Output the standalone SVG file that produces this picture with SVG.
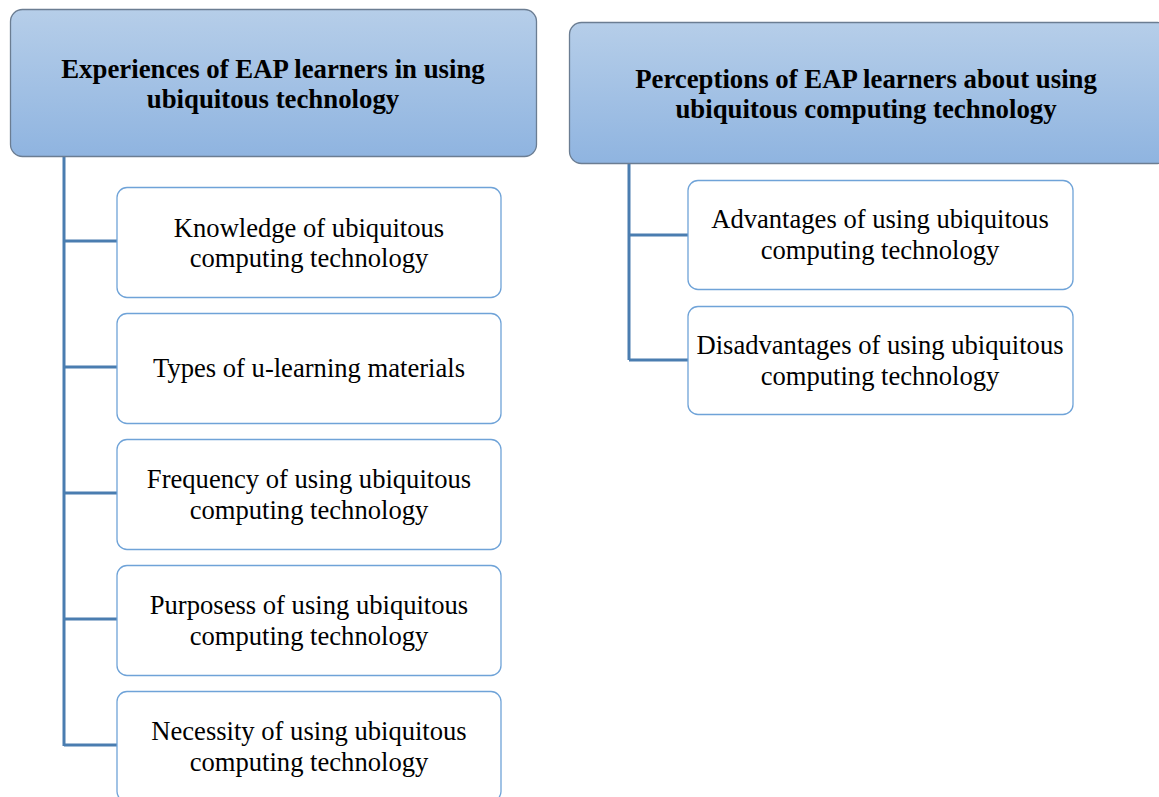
<svg xmlns="http://www.w3.org/2000/svg" width="1159" height="797" viewBox="0 0 1159 797">
  <style>
    .head { stroke: #6b7d92; stroke-width: 1.3; fill: url(#headFill); }
    .item { fill: #ffffff; stroke: #6fa3d8; stroke-width: 1.3; }
    .ht { font-family: "Liberation Serif", "Times New Roman", serif; font-weight: bold; font-size: 26.8px; fill: #000; text-anchor: middle; }
    .it { font-family: "Liberation Serif", "Times New Roman", serif; font-size: 26.6px; fill: #000; text-anchor: middle; }
    .wire { fill: none; stroke: #4a7db0; stroke-width: 3; }
  </style>
  <defs>
    <linearGradient id="headFill" x1="0" y1="0" x2="0" y2="1">
      <stop offset="0" stop-color="#b6cee9"/>
      <stop offset="1" stop-color="#8fb4e0"/>
    </linearGradient>
  </defs>
  <rect width="1159" height="797" fill="#ffffff"/>

  <g id="connectors">
    <path class="wire" d="M64 156 V746 M64 241 H117 M64 367 H117 M64 493 H117 M64 619 H117 M64 745 H117"/>
    <path class="wire" d="M629 163 V360 M629 235 H688 M629 360 H688"/>
  </g>

  <g id="experiences">
    <rect class="head" x="10.5" y="9.5" width="526" height="147" rx="12"/>
    <text class="ht" x="273" y="78">Experiences of EAP learners in using</text>
    <text class="ht" x="273" y="108">ubiquitous technology</text>
  </g>

  <g id="perceptions">
    <rect class="head" x="569.5" y="22.5" width="600" height="141" rx="12"/>
    <text class="ht" x="866" y="88">Perceptions of EAP learners about using</text>
    <text class="ht" x="866" y="118">ubiquitous computing technology</text>
  </g>

  <g id="knowledge">
    <rect class="item" x="117" y="187.5" width="384" height="110" rx="10"/>
    <text class="it" x="309" y="237">Knowledge of ubiquitous</text>
    <text class="it" x="309" y="267">computing technology</text>
  </g>

  <g id="types">
    <rect class="item" x="117" y="313.5" width="384" height="110" rx="10"/>
    <text class="it" x="309" y="377">Types of u-learning materials</text>
  </g>

  <g id="frequency">
    <rect class="item" x="117" y="439.5" width="384" height="110" rx="10"/>
    <text class="it" x="309" y="488">Frequency of using ubiquitous</text>
    <text class="it" x="309" y="519">computing technology</text>
  </g>

  <g id="purposes">
    <rect class="item" x="117" y="565.5" width="384" height="110" rx="10"/>
    <text class="it" x="309" y="614">Purposess of using ubiquitous</text>
    <text class="it" x="309" y="645">computing technology</text>
  </g>

  <g id="necessity">
    <rect class="item" x="117" y="691.5" width="384" height="110" rx="10"/>
    <text class="it" x="309" y="740">Necessity of using ubiquitous</text>
    <text class="it" x="309" y="771">computing technology</text>
  </g>

  <g id="advantages">
    <rect class="item" x="688" y="180.5" width="385" height="109" rx="10"/>
    <text class="it" x="880" y="228">Advantages of using ubiquitous</text>
    <text class="it" x="880" y="259">computing technology</text>
  </g>

  <g id="disadvantages">
    <rect class="item" x="688" y="306.5" width="385" height="108" rx="10"/>
    <text class="it" x="880" y="354">Disadvantages of using ubiquitous</text>
    <text class="it" x="880" y="385">computing technology</text>
  </g>
</svg>
